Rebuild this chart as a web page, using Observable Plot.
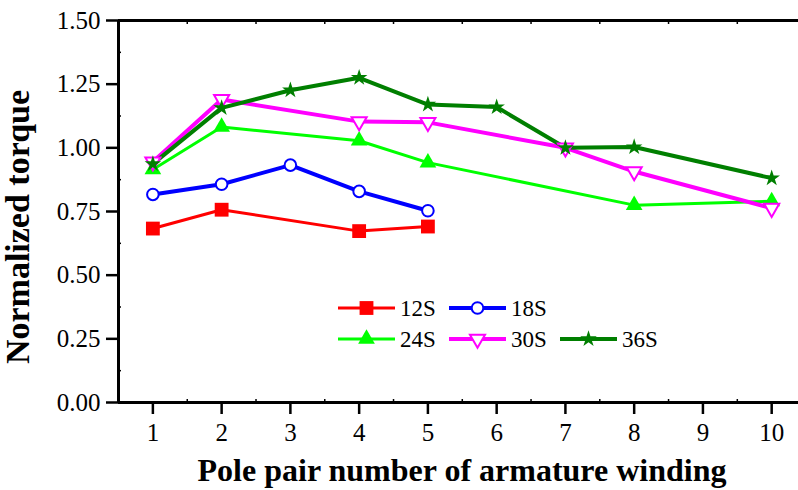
<!DOCTYPE html>
<html>
<head>
<meta charset="utf-8">
<script src="https://cdn.jsdelivr.net/npm/d3@7"></script>
<script src="https://cdn.jsdelivr.net/npm/@observablehq/plot@0.6"></script>
<style>
  html, body { margin: 0; padding: 0; background: #fff; }
  svg { display: block; }
</style>
</head>
<body>
<div id="chart"></div>
<script>
const poles12 = [1, 2, 4, 5];
const torque12 = [0.683, 0.757, 0.673, 0.691];
const poles18 = [1, 2, 3, 4, 5];
const torque18 = [0.817, 0.857, 0.932, 0.829, 0.753];
const poles24 = [1, 2, 4, 5, 8, 10];
const torque24 = [0.915, 1.082, 1.028, 0.942, 0.775, 0.790];
const poles30 = [1, 2, 4, 5, 7, 8, 10];
const torque30 = [0.945, 1.190, 1.103, 1.100, 1.000, 0.907, 0.763];
const poles36 = [1, 2, 3, 4, 5, 6, 7, 8, 10];
const torque36 = [0.937, 1.157, 1.226, 1.275, 1.170, 1.160, 1.000, 1.003, 0.881];
const seriesNames = ["12S", "18S", "24S", "30S", "36S"];
const xTicks = [1, 2, 3, 4, 5, 6, 7, 8, 9, 10];
const yTicks = [0, 0.25, 0.5, 0.75, 1.0, 1.25, 1.5];

const styles = {
  "12S": {color: "#ff0000", symbol: "square", r: 7.8, fill: "#ff0000", sw: 3, rotate: 0, msw: 0},
  "18S": {color: "#0000ff", symbol: "circle", r: 5.8, fill: "#ffffff", sw: 4, rotate: 0, msw: 2},
  "24S": {color: "#00ff00", symbol: "triangle", r: 6.2, fill: "#00ff00", sw: 3, rotate: 0, msw: 0},
  "30S": {color: "#ff00ff", symbol: "triangle", r: 5.6, fill: "#ffffff", sw: 4, rotate: 180, msw: 2},
  "36S": {color: "#007f00", symbol: "star", r: 5.2, fill: "#007f00", sw: 4, rotate: 0, msw: 0}
};
const raw = {
  "12S": [poles12, torque12],
  "18S": [poles18, torque18],
  "24S": [poles24, torque24],
  "30S": [poles30, torque30],
  "36S": [poles36, torque36]
};
const rows = [];
for (const s of seriesNames) {
  const [xs, ys] = raw[s];
  xs.forEach((p, i) => rows.push({series: s, pole: p, torque: ys[i]}));
}

const W = 798, H = 490;
const serif = "'Liberation Serif', 'Times New Roman', serif";

const marks = [];
for (const s of seriesNames) {
  const st = styles[s];
  const d = rows.filter(r => r.series === s);
  marks.push(Plot.line(d, {x: "pole", y: "torque", stroke: st.color, strokeWidth: st.sw}));
}
for (const s of seriesNames) {
  const st = styles[s];
  const d = rows.filter(r => r.series === s);
  marks.push(Plot.dot(d, {x: "pole", y: "torque", symbol: () => st.symbol, r: st.r,
    fill: st.fill, stroke: st.msw ? st.color : "none", strokeWidth: st.msw, rotate: st.rotate}));
}

const chart = Plot.plot({
  width: W, height: H,
  marginLeft: 118, marginRight: 0, marginTop: 20, marginBottom: 88,
  style: {fontFamily: serif, background: "#fff", overflow: "visible", color: "black"},
  x: {domain: [0.5, 10.39]},
  y: {domain: [0, 1.5]},
  symbol: {type: "identity"},
  marks: [
    Plot.axisX({ticks: xTicks, tickSize: 12, tickPadding: 9, fontSize: 25, strokeWidth: 2.5, tickFormat: d => String(d), label: null}),
    Plot.axisX({ticks: d3.range(1.5, 10.4, 1), tickSize: -3, strokeWidth: 1.5, tickFormat: () => "", label: null}),
    Plot.axisX({anchor: "top", ticks: d3.range(1.5, 10.4, 1), tickSize: -3, strokeWidth: 1.5, tickFormat: () => "", label: null}),
    Plot.axisY({ticks: yTicks, tickSize: 12, tickPadding: 6, fontSize: 25, strokeWidth: 2.5, tickFormat: d3.format(".2f"), label: null}),
    Plot.axisY({ticks: d3.range(0.125, 1.5, 0.25), tickSize: -3, strokeWidth: 1.5, tickFormat: () => "", label: null}),
    Plot.ruleX([0.5], {stroke: "black", strokeWidth: 3}),
    Plot.ruleY([0], {stroke: "black", strokeWidth: 3}),
    Plot.ruleY([1.5], {stroke: "black", strokeWidth: 3}),
    ...marks
  ]
});
document.getElementById("chart").appendChild(chart);

const svg = d3.select(chart);
// axis titles
svg.append("text")
  .attr("x", 462).attr("y", 481)
  .attr("text-anchor", "middle")
  .attr("font-family", serif).attr("font-weight", "bold").attr("font-size", 32)
  .attr("fill", "black")
  .text("Pole pair number of armature winding");
svg.append("text")
  .attr("transform", "translate(29,227) rotate(-90)")
  .attr("text-anchor", "middle")
  .attr("font-family", serif).attr("font-weight", "bold").attr("font-size", 34)
  .attr("fill", "black")
  .text("Normalized torque");

// legend
const legendPos = {
  "12S": [338, 308], "18S": [449, 308],
  "24S": [338, 339], "30S": [449, 339], "36S": [560, 339]
};
const symMap = {square: d3.symbolSquare, circle: d3.symbolCircle, triangle: d3.symbolTriangle, star: d3.symbolStar};
const lg = svg.append("g");
for (const s of seriesNames) {
  const st = styles[s];
  const [lx, ly] = legendPos[s];
  lg.append("line").attr("x1", lx).attr("x2", lx + 57).attr("y1", ly).attr("y2", ly)
    .attr("stroke", st.color).attr("stroke-width", st.sw);
  lg.append("path")
    .attr("d", d3.symbol(symMap[st.symbol], Math.PI * st.r * st.r)())
    .attr("transform", `translate(${lx + 28.5},${ly}) rotate(${st.rotate})`)
    .attr("fill", st.fill).attr("stroke", st.msw ? st.color : "none").attr("stroke-width", st.msw);
  lg.append("text").attr("x", lx + 62).attr("y", ly).attr("dy", "0.35em")
    .attr("text-anchor", "start")
    .attr("font-family", serif).attr("font-size", 23).attr("fill", "black")
    .text(s);
}
</script>
</body>
</html>
